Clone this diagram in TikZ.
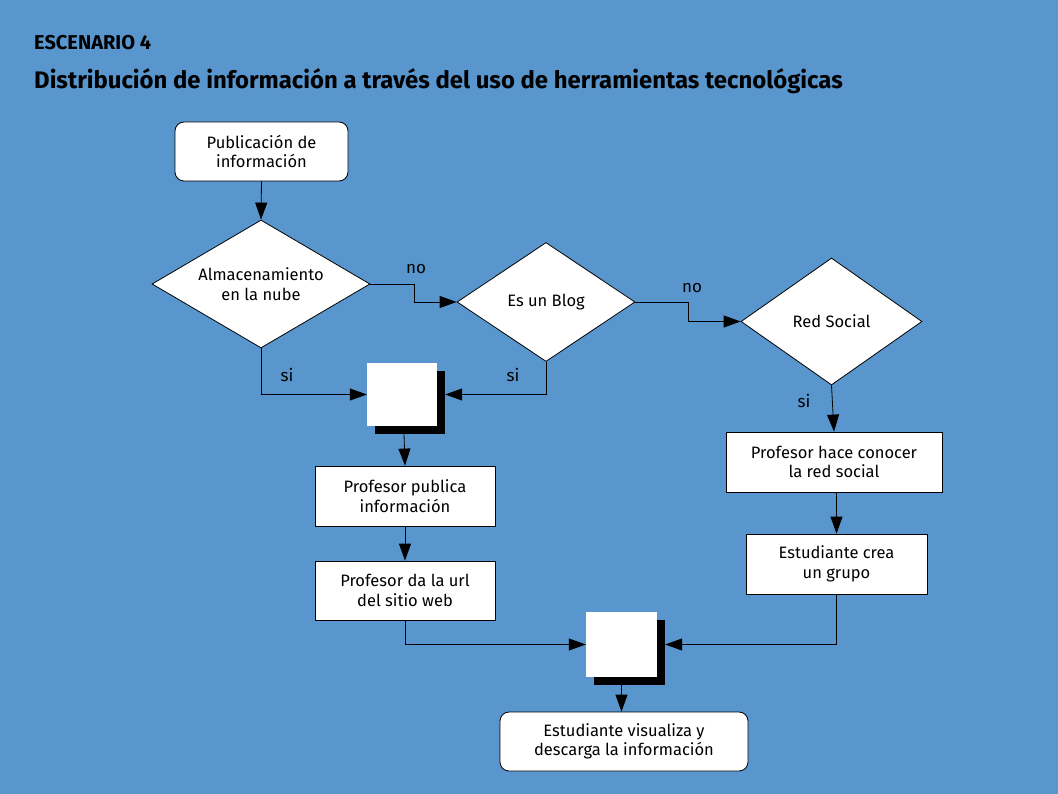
\documentclass[tikz,border=0pt]{standalone}
\usepackage{fontspec}
\setmainfont{Fira Sans}
\usetikzlibrary{shapes.geometric,arrows.meta,shadows}
\definecolor{bgblue}{HTML}{5896CD}
\begin{document}
\begin{tikzpicture}[x=1pt,y=-1pt,
 every node/.style={font=\fontsize{16.5}{19.5}\selectfont, align=center},
 proc/.style={draw, fill=white, line width=0.8pt, minimum width=180pt, minimum height=60pt, inner sep=0},
 term/.style={proc, rounded corners=9pt},
 dec/.style={draw, fill=white, shape=diamond, line width=0.8pt, inner sep=0},
 dtext/.style={align=center, inner sep=0},
 junc/.style={fill=white, minimum width=70pt, minimum height=63pt, inner sep=0,
   general shadow={fill=black, shadow xshift=8pt, shadow yshift=-8pt}},
 conn/.style={line width=0.8pt, -{Triangle[length=17pt,width=12pt]}},
 lab/.style={font=\fontsize{17}{20}\selectfont, inner sep=0},
 ttl/.style={anchor=west, inner sep=0, font=\bfseries\fontsize{23.9}{28}\selectfont}
]
\fill[bgblue] (0,0) rectangle (1058,794);
\useasboundingbox (0,0) rectangle (1058,794);

\node[ttl, font=\bfseries\fontsize{20}{24}\selectfont] (t1) at (34,43) {ESCENARIO 4};
\node[ttl] (t2) at (34,81) {Distribución de información a través del uso de herramientas tecnológicas};

\node[term, minimum width=173pt, minimum height=59pt] (s) at (261.5,151.5) {Publicación de\\información};
\node[dec, minimum width=218pt, minimum height=128pt] (d1) at (261,284) {};
\node[dtext] (d1t) at (d1.center) {Almacenamiento\\en la nube};
\node[dec, minimum width=178pt, minimum height=119pt] (d2) at (546,302) {};
\node[dtext] (d2t) at (d2.center) {Es un Blog};
\node[dec, minimum width=181pt, minimum height=127pt] (d3) at (831.5,321.5) {};
\node[dtext] (d3t) at (d3.center) {Red Social};

\node[junc] (j1) at (402,394.5) {};
\node[proc] (p1) at (405,496) {Profesor publica\\información};
\node[proc, minimum height=59pt] (p2) at (405,590.5) {Profesor da la url\\del sitio web};
\node[proc, minimum width=216pt] (p3) at (834,462) {Profesor hace conocer\\la red social};
\node[proc, minimum width=181pt] (p4) at (836.5,564) {Estudiante crea\\un grupo};
\node[junc, minimum width=71pt, minimum height=65pt] (j2) at (621.5,644.5) {};
\node[term, minimum width=248pt, minimum height=59pt] (e) at (624,741.5) {Estudiante visualiza y\\descarga la información};

\draw[conn] (s.south) -- (d1.north);
\draw[conn] (d1.east) -- ++(44,0) |- (d2.west);
\draw[conn] (d2.east) -- ++(53,0) |- (d3.west);
\draw[conn] (d1.south) |- (j1.west);
\draw[conn] (d2.south) |- ([xshift=8pt]j1.east);
\draw[conn] ([xshift=2pt,yshift=-8pt]j1.south) -- (p1.north);
\draw[conn] (p1.south) -- (p2.north);
\draw[conn] (p2.south) |- (j2.west);
\draw[conn] (d3.south) -- (p3.north);
\draw[conn] (p4.north |- p3.south) -- (p4.north);
\draw[conn] (p4.south) |- ([xshift=8pt]j2.east);
\draw[conn] ([yshift=-8pt]j2.south) -- (e.north -| j2.south);

\node[lab] (no1) at (416,269) {no};
\node[lab] (no2) at (692,288) {no};
\node[lab] (si1) at (287,375) {si};
\node[lab] (si2) at (513,375) {si};
\node[lab] (si3) at (804,401) {si};
\end{tikzpicture}
\end{document}
